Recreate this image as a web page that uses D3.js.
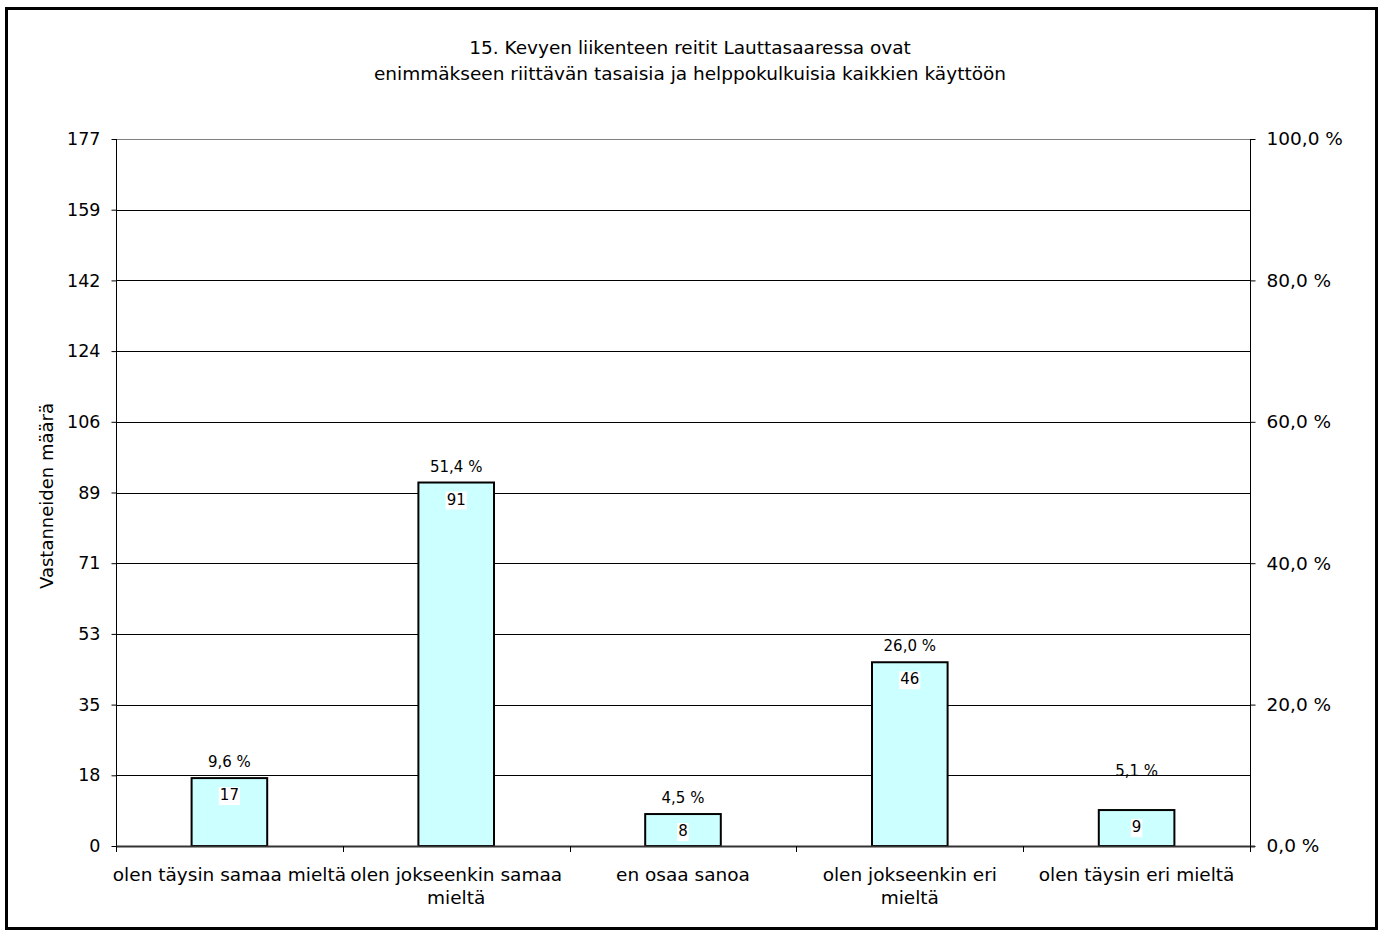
<!DOCTYPE html>
<html>
<head>
<meta charset="utf-8">
<script src="https://cdn.jsdelivr.net/npm/d3@7"></script>
<style>
  html, body { margin: 0; padding: 0; background: #fff; }
  svg { display: block; }
  text { font-family: "DejaVu Sans", Verdana, sans-serif; fill: #000; }
</style>
</head>
<body>
<svg id="chart" width="1383" height="932"></svg>
<script>
const titleLines = [
  "15. Kevyen liikenteen reitit Lauttasaaressa ovat",
  "enimmäkseen riittävän tasaisia ja helppokulkuisia kaikkien käyttöön"
];
const categories = [
  ["olen täysin samaa mieltä"],
  ["olen jokseenkin samaa", "mieltä"],
  ["en osaa sanoa"],
  ["olen jokseenkin eri", "mieltä"],
  ["olen täysin eri mieltä"]
];
const counts = [17, 91, 8, 46, 9];
const total = 177;
const leftTickValues = [0, 17.7, 35.4, 53.1, 70.8, 88.5, 106.2, 123.9, 141.6, 159.3, 177];
const leftTickLabels = ["0", "18", "35", "53", "71", "89", "106", "124", "142", "159", "177"];
const rightTickValues = [0, 0.2, 0.4, 0.6, 0.8, 1.0];
const rightTickLabels = ["0,0 %", "20,0 %", "40,0 %", "60,0 %", "80,0 %", "100,0 %"];
const yAxisTitle = "Vastanneiden määrä";

const svg = d3.select("#chart");
const plot = { left: 116, right: 1250, top: 139, bottom: 846 };

// outer frame
svg.append("rect").attr("x", 6.5).attr("y", 8.5).attr("width", 1370).attr("height", 920)
  .attr("fill", "#fff").attr("stroke", "#000").attr("stroke-width", 3);

const x = d3.scaleBand().domain(d3.range(categories.length))
  .range([plot.left, plot.right]).paddingInner(2/3).paddingOuter(1/3);
const y = d3.scaleLinear().domain([0, total]).range([plot.bottom, plot.top]);
const yR = d3.scaleLinear().domain([0, 1]).range([plot.bottom, plot.top]);

// gridlines
svg.append("g").selectAll("line").data(leftTickValues.slice(1)).join("line")
  .attr("x1", plot.left).attr("x2", plot.right)
  .attr("y1", d => Math.round(y(d)) + 0.5).attr("y2", d => Math.round(y(d)) + 0.5)
  .attr("stroke", (d, i, a) => i === a.length - 1 ? "#808080" : "#000").attr("stroke-width", 1);

// bars
svg.append("g").selectAll("rect").data(counts).join("rect")
  .attr("x", (d, i) => x(i)).attr("width", x.bandwidth())
  .attr("y", d => y(d)).attr("height", d => y(0) - y(d))
  .attr("fill", "#CCFFFF").attr("stroke", "#000").attr("stroke-width", 2);

// left axis
const leftAxis = d3.axisLeft(y).tickValues(leftTickValues)
  .tickFormat((d, i) => leftTickLabels[i]).tickSize(5).tickPadding(11);
const gL = svg.append("g").attr("transform", `translate(${plot.left + 0.5},0)`).call(leftAxis);
gL.select(".domain").attr("stroke", "#000").attr("d", `M0,${plot.top}V${plot.bottom}`);
gL.selectAll(".tick line").attr("stroke", "#000");
gL.selectAll(".tick text").attr("font-size", 17.5).attr("font-family", "DejaVu Sans").attr("fill", "#000");

// right axis
const rightAxis = d3.axisRight(yR).tickValues(rightTickValues)
  .tickFormat((d, i) => rightTickLabels[i]).tickSize(5).tickPadding(11);
const gR = svg.append("g").attr("transform", `translate(${plot.right + 0.5},0)`).call(rightAxis);
gR.select(".domain").attr("stroke", "#000").attr("d", `M0,${plot.top}V${plot.bottom}`);
gR.selectAll(".tick line").attr("stroke", "#000");
gR.selectAll(".tick text").attr("font-size", 18.5).attr("font-family", "DejaVu Sans").attr("fill", "#000");

// bottom axis line
svg.append("line").attr("x1", plot.left).attr("x2", plot.right + 5)
  .attr("y1", plot.bottom + 0.5).attr("y2", plot.bottom + 0.5)
  .attr("stroke", "#333").attr("stroke-width", 2);
// category separator ticks
const step = x.step();
svg.append("g").selectAll("line").data(d3.range(categories.length + 1)).join("line")
  .attr("x1", i => Math.round(plot.left + i * step) + 0.5).attr("x2", i => Math.round(plot.left + i * step) + 0.5)
  .attr("y1", plot.bottom).attr("y2", plot.bottom + 6)
  .attr("stroke", "#000");

// category labels
const catG = svg.append("g");
categories.forEach((lines, i) => {
  const cx = x(i) + x.bandwidth() / 2;
  const t = catG.append("text").attr("text-anchor", "middle").attr("font-size", 18.5);
  lines.forEach((ln, k) => {
    t.append("tspan").attr("x", cx).attr("y", 881 + k * 23).text(ln);
  });
});

// value labels inside bars with white background
const valG = svg.append("g");
counts.forEach((d, i) => {
  const cx = x(i) + x.bandwidth() / 2;
  const ty = y(d) + 22;
  const t = valG.append("text").attr("x", cx).attr("y", ty).attr("text-anchor", "middle")
    .attr("font-size", 15).text(d);
  const bb = t.node().getBBox();
  valG.insert("rect", () => t.node()).attr("x", bb.x - 1).attr("y", bb.y + 1)
    .attr("width", bb.width + 2).attr("height", bb.height).attr("fill", "#fff");
});

// percentage labels above bars
const fmtPct = v => (Math.round(v * 1000) / 10).toFixed(1).replace(".", ",") + " %";
const pctG = svg.append("g");
counts.forEach((d, i) => {
  const cx = x(i) + x.bandwidth() / 2;
  const p = d / total;
  const lift = i === counts.length - 1 ? 23 : 0; // last label sits higher in the original
  pctG.append("text").attr("x", cx).attr("y", yR(p) - 11 - lift)
    .attr("text-anchor", "middle").attr("font-size", 15).attr("fill", "#222").text(fmtPct(p));
});

// y axis title
svg.append("text").attr("transform", `translate(53,496) rotate(-90)`)
  .attr("text-anchor", "middle").attr("font-size", 18).text(yAxisTitle);

// chart title
const tt = svg.append("text").attr("text-anchor", "middle").attr("font-size", 18.5);
titleLines.forEach((ln, k) => {
  tt.append("tspan").attr("x", 690).attr("y", 54 + k * 26).text(ln);
});
</script>
</body>
</html>
